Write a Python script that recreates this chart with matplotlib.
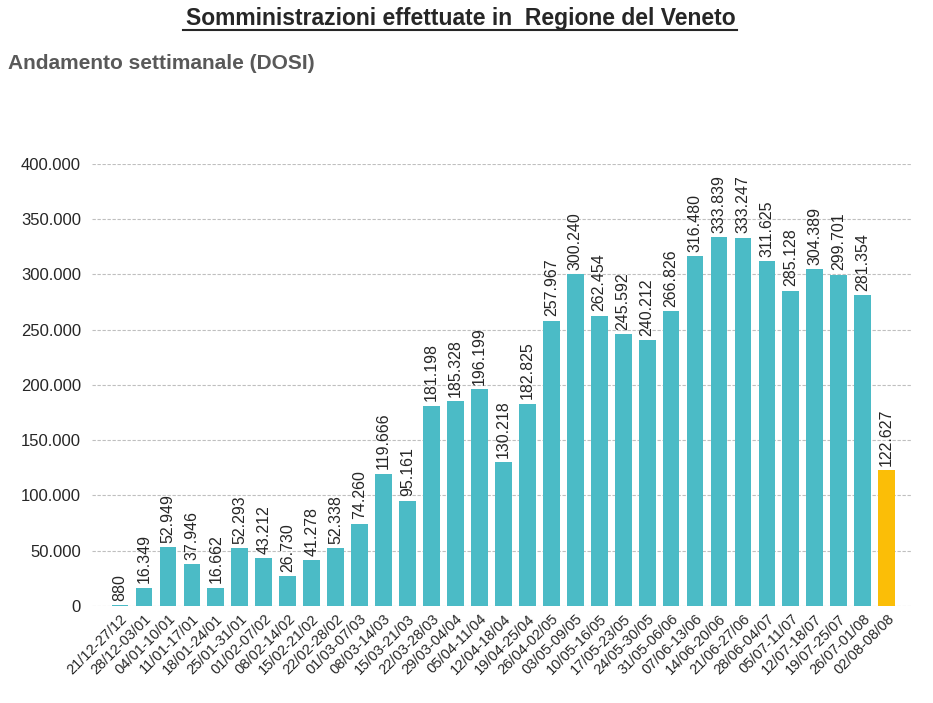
import matplotlib.pyplot as plt
from matplotlib.ticker import FuncFormatter

plt.rcParams['font.family'] = ['Liberation Sans', 'DejaVu Sans']

# Settimane (etichette asse x)
settimane = [
    '21/12-27/12', '28/12-03/01', '04/01-10/01', '11/01-17/01', '18/01-24/01',
    '25/01-31/01', '01/02-07/02', '08/02-14/02', '15/02-21/02', '22/02-28/02',
    '01/03-07/03', '08/03-14/03', '15/03-21/03', '22/03-28/03', '29/03-04/04',
    '05/04-11/04', '12/04-18/04', '19/04-25/04', '26/04-02/05', '03/05-09/05',
    '10/05-16/05', '17/05-23/05', '24/05-30/05', '31/05-06/06', '07/06-13/06',
    '14/06-20/06', '21/06-27/06', '28/06-04/07', '05/07-11/07', '12/07-18/07',
    '19/07-25/07', '26/07-01/08', '02/08-08/08',
]

# Dosi somministrate per settimana
dosi = [
    880, 16349, 52949, 37946, 16662, 52293, 43212, 26730, 41278, 52338,
    74260, 119666, 95161, 181198, 185328, 196199, 130218, 182825, 257967, 300240,
    262454, 245592, 240212, 266826, 316480, 333839, 333247, 311625, 285128, 304389,
    299701, 281354, 122627,
]

y_ticks = [0, 50000, 100000, 150000, 200000, 250000, 300000, 350000, 400000]


def it_fmt(v):
    return f'{int(v):,}'.replace(',', '.')


colori = ['#4BBBC6'] * (len(dosi) - 1) + ['#FBBE07']

fig = plt.figure(figsize=(9.33, 7.03), dpi=100)
ax = fig.add_axes([0.0986, 0.138, 0.879, 0.629])

x = range(len(dosi))
ax.bar(x, dosi, width=0.7, color=colori, zorder=3)

for i, v in enumerate(dosi):
    ax.text(i, v + 4000, it_fmt(v), rotation=90, ha='center', va='bottom',
            fontsize=11.5, color='#262626', clip_on=False)

ax.set_xlim(-1.17, 33.06)
ax.set_ylim(0, 400000)
ax.set_yticks(y_ticks)
ax.yaxis.set_major_formatter(FuncFormatter(lambda v, p: it_fmt(v)))
ax.set_xticks(list(x))
ax.set_xticklabels(settimane, rotation=45, ha='right', rotation_mode='anchor',
                   fontsize=10.5, color='#262626')
ax.tick_params(axis='y', labelsize=12, colors='#262626', length=0, pad=8)
ax.tick_params(axis='x', length=0, pad=4)
ax.grid(axis='y', color='#BFBFBF', linestyle=(0, (3, 1.5)), linewidth=0.8, zorder=0)
for s in ax.spines.values():
    s.set_visible(False)

fig.text(0.494, 0.974, 'Somministrazioni effettuate in  Regione del Veneto',
         ha='center', va='center', fontsize=16.5, fontweight='bold', color='#262626')
fig.add_artist(plt.Line2D([183 / 933, 737 / 933], [1 - 29.5 / 703, 1 - 29.5 / 703],
                          color='#262626', linewidth=1.5))
fig.text(0.009, 0.91, 'Andamento settimanale (DOSI)', ha='left', va='center',
         fontsize=15, fontweight='bold', color='#595959')

fig.savefig('out.png', dpi=100)
